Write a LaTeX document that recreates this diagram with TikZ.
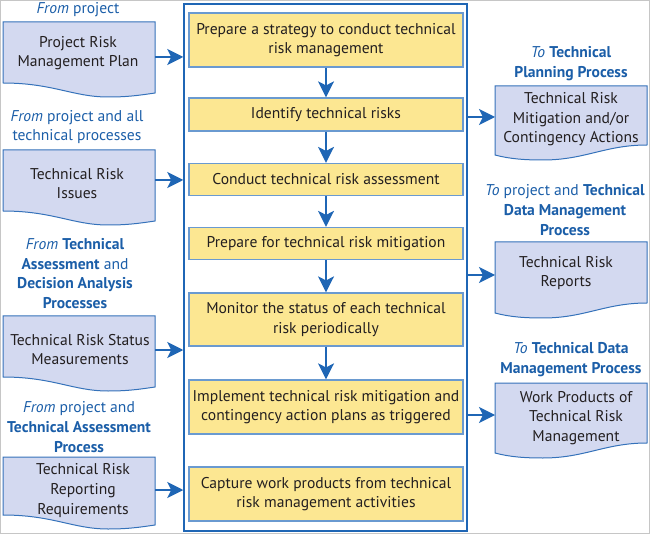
\documentclass[tikz,border=0pt]{standalone}
\usepackage{fontspec}
\setmainfont{PT Sans}
\usetikzlibrary{arrows.meta}
\definecolor{frameblue}{HTML}{1F66B5}
\definecolor{docfill}{HTML}{D3D9F0}
\definecolor{docline}{HTML}{3572BA}
\definecolor{yfill}{HTML}{FCE792}
\definecolor{yline}{HTML}{6A9AD0}
\definecolor{labelblue}{HTML}{1B5EA8}
\definecolor{txt}{HTML}{231F20}
\newcommand\mydocL[3]{%
  \filldraw[docshape] (#1,#2) -- (#1+152,#2) -- (#1+152,#3+10)
    .. controls (#1+132,#3+13) and (#1+122,#3+14) .. (#1+105,#3+14)
    .. controls (#1+70,#3+14) and (#1+50,#3) .. (#1,#3) -- cycle;}
\newcommand\mydocR[3]{%
  \filldraw[docshape] (#1,#2) -- (#1+152,#2) -- (#1+152,#3-10)
    .. controls (#1+110,#3-10) and (#1+90,#3+5) .. (#1+48,#3+5)
    .. controls (#1+30,#3+5) and (#1+15,#3+4) .. (#1,#3) -- cycle;}
\begin{document}
\begin{tikzpicture}[x=1pt,y=-1pt,
  font=\fontsize{15.6}{19.6}\selectfont,
  docshape/.style={fill=docfill,draw=docline,line width=1pt},
  stepbox/.style={draw=yline,fill=yfill,line width=1.2pt,minimum width=274pt,
    inner sep=0pt,align=center,text=txt},
  doctext/.style={align=center,text=txt,inner sep=0pt},
  lab/.style={align=center,text=labelblue,inner sep=0pt},
  arr/.style={draw=frameblue,line width=1.6pt,
    -{Stealth[length=16pt,width=16pt,inset=4pt]}}]
\useasboundingbox (0,0) rectangle (650,534);
\draw[gray!45,line width=1pt] (0.5,0.5) rectangle (649.5,533);
% frame
\node[draw=frameblue,line width=1.5pt,minimum width=283pt,minimum height=527pt,inner sep=0pt] (frame) at (325.5,267.5) {};
% steps
\node[stepbox,minimum height=54pt] (b1) at (326,40) {Prepare a strategy to conduct technical\\risk management};
\node[stepbox,minimum height=33pt] (b2) at (326,114.5) {Identify technical risks};
\node[stepbox,minimum height=32pt] (b3) at (326,179.5) {Conduct technical risk assessment};
\node[stepbox,minimum height=32pt] (b4) at (326,243.5) {Prepare for technical risk mitigation};
\node[stepbox,minimum height=53pt] (b5) at (326,319.5) {Monitor the status of each technical\\risk periodically};
\node[stepbox,minimum height=54pt] (b6) at (326,407) {Implement technical risk mitigation and\\contingency action plans as triggered};
\node[stepbox,minimum height=54pt] (b7) at (326,494) {Capture work products from technical\\risk management activities};
\draw[arr] (b1) -- (b2);
\draw[arr] (b2) -- (b3);
\draw[arr] (b3) -- (b4);
\draw[arr] (b4) -- (b5);
\draw[arr] (b5) -- (b6);
% left documents
\mydocL{3}{22}{83}
\mydocL{3}{150}{211}
\mydocL{3}{316}{377}
\mydocL{3}{457}{515}
\node[doctext] (d1) at (78,53) {Project Risk\\Management Plan};
\node[doctext] (d2) at (77,183.5) {Technical Risk\\Issues};
\node[doctext] (d3) at (80,349.5) {Technical Risk Status\\Measurements};
\node[doctext] (d4) at (83,490.5) {Technical Risk\\Reporting\\Requirements};
\coordinate (d1r) at (155,57);
\coordinate (d2r) at (155,180);
\coordinate (d3r) at (155,350);
\coordinate (d4r) at (155,490);
\draw[arr] (d1r) -- (d1r -| frame.west);
\draw[arr] (d2r) -- (d2r -| frame.west);
\draw[arr] (d3r) -- (d3r -| frame.west);
\draw[arr] (d4r) -- (d4r -| frame.west);
% left labels
\node[lab] (l1) at (78,10) {\textit{From} project};
\node[lab] (l2) at (77,127) {\textit{From} project and all\\technical processes};
\node[lab] (l3) at (75,273.5) {\textit{From} \textbf{Technical}\\\textbf{Assessment} and\\\textbf{Decision Analysis}\\\textbf{Processes}};
\node[lab] (l4) at (79,427) {\textit{From} project and\\\textbf{Technical Assessment}\\\textbf{Process}};
% right documents
\mydocR{495}{86}{155}
\mydocR{495}{242}{313}
\mydocR{495}{383}{453}
\node[doctext] (r1) at (571,119.5) {Technical Risk\\Mitigation and/or\\Contingency Actions};
\node[doctext] (r2) at (566,273) {Technical Risk\\Reports};
\node[doctext] (r3) at (576,418) {Work Products of\\Technical Risk\\Management};
\coordinate (r1l) at (495,117);
\coordinate (r2l) at (495,275);
\coordinate (r3l) at (495,415);
\draw[arr] (r1l -| frame.east) -- (r1l);
\draw[arr] (r2l -| frame.east) -- (r2l);
\draw[arr] (r3l -| frame.east) -- (r3l);
% right labels
\node[lab] (rl1) at (571,63.5) {\textit{To} \textbf{Technical}\\\textbf{Planning Process}};
\node[lab] (rl2) at (565,210) {\textit{To} project and \textbf{Technical}\\\textbf{Data Management}\\\textbf{Process}};
\node[lab] (rl3) at (571,359.5) {\textit{To} \textbf{Technical Data}\\\textbf{Management Process}};
\end{tikzpicture}
\end{document}
